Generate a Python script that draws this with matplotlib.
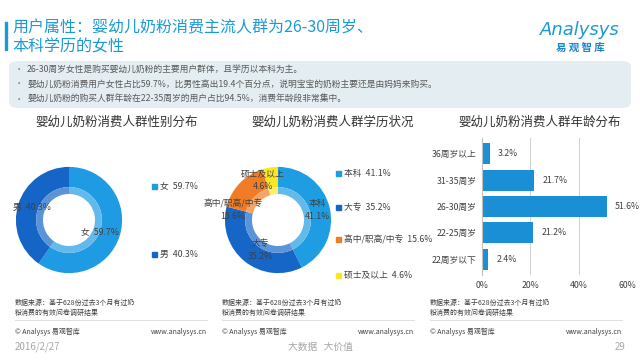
import numpy as np
import matplotlib.pyplot as plt
from matplotlib.patches import FancyBboxPatch, Rectangle
from matplotlib.colors import to_rgb

plt.rcParams['font.family'] = ['Noto Sans CJK SC', 'DejaVu Sans']

# data
gender_labels = ['女', '男']
gender_values = [59.7, 40.3]
edu_labels = ['本科', '大专', '高中/职高/中专', '硕士及以上']
edu_values = [41.1, 35.2, 15.6, 4.6]
age_labels = ['22周岁以下', '22-25周岁', '26-30周岁', '31-35周岁', '36周岁以上']
age_values = [2.4, 21.2, 51.6, 21.7, 3.2]
bullets = ['26-30周岁女性是购买婴幼儿奶粉的主要用户群体，且学历以本科为主。',
           '婴幼儿奶粉消费用户女性占比59.7%，比男性高出19.4个百分点，说明宝宝的奶粉主要还是由妈妈来购买。',
           '婴幼儿奶粉的购买人群年龄在22-35周岁的用户占比94.5%，消费年龄段非常集中。']

W, H = 640, 360
BLUE = '#1a9ad6'
GRAY = '#404040'

def fx(x):
    return x / W

def fy(y):
    return 1 - y / H

fig = plt.figure(figsize=(6.4, 3.6), dpi=100)
fig.patch.set_facecolor('white')

# title block
fig.add_artist(Rectangle((fx(5), fy(50)), 2 / W, 28 / H, color=BLUE, transform=fig.transFigure))
fig.text(fx(12), fy(28), '用户属性：婴幼儿奶粉消费主流人群为26-30周岁、', color=BLUE,
         fontsize=11.5, va='center')
fig.text(fx(12), fy(47), '本科学历的女性', color=BLUE, fontsize=11.5, va='center')
fig.text(fx(580), fy(30), 'Analysys', color=BLUE, fontsize=13, style='italic',
         ha='center', va='center', family='DejaVu Sans')
fig.text(fx(580), fy(48), '易 观 智 库', color='#1a86c8', fontsize=7.5, fontweight='bold',
         ha='center', va='center')

# bullet box
box = FancyBboxPatch((fx(9), fy(108)), fx(622), 47 / H,
                     boxstyle='round,pad=0,rounding_size=0.015',
                     transform=fig.transFigure, facecolor='#e3edf2', edgecolor='none')
fig.add_artist(box)
for i, b in enumerate(bullets):
    y = fy(69 + i * 15)
    fig.text(fx(15), y, '•', color='#777777', fontsize=6, va='center')
    fig.text(fx(27), y, b, color='#595959', fontsize=6.3, va='center')

def lighter(c, f=0.3):
    r, g, b = to_rgb(c)
    return (r + (1 - r) * f, g + (1 - g) * f, b + (1 - b) * f)

def donut(cx, cy, values, colors):
    s = 120
    ax = fig.add_axes([fx(cx - s / 2), fy(cy + s / 2), s / W, s / H])
    ax.pie(values, colors=colors, startangle=90, counterclock=False, radius=1,
           wedgeprops=dict(width=0.38, edgecolor='none'))
    ax.pie(values, colors=[lighter(c) for c in colors], startangle=90, counterclock=False,
           radius=0.62, wedgeprops=dict(width=0.13, edgecolor='none'))
    ax.set_xlim(-1.13, 1.13)
    ax.set_ylim(-1.13, 1.13)
    ax.set_aspect('equal')
    ax.axis('off')
    return ax

# chart 1: gender
g_colors = ['#1e9be2', '#1565c6']
fig.text(fx(117), fy(122), '婴幼儿奶粉消费人群性别分布', fontsize=9, color='#333333',
         ha='center', va='center')
donut(69, 220, gender_values, g_colors)
fig.text(fx(100), fy(232), '女  59.7%', fontsize=6.3, color=GRAY, ha='center', va='center')
fig.text(fx(32), fy(207), '男  40.3%', fontsize=6.3, color=GRAY, ha='center', va='center')
for i, (lab, v) in enumerate(zip(gender_labels, gender_values)):
    y = fy(186 + i * 68)
    fig.add_artist(Rectangle((fx(152), y - 2.5 / H), 5 / W, 5 / H, color=g_colors[i],
                             transform=fig.transFigure))
    fig.text(fx(160), y, f'{lab}  {v}%', fontsize=6.3, color=GRAY, va='center')

# chart 2: education
e_colors = ['#1f9de2', '#1666c8', '#f07d26', '#fbe625']
fig.text(fx(333), fy(122), '婴幼儿奶粉消费人群学历状况', fontsize=9, color='#333333',
         ha='center', va='center')
donut(278, 220, edu_values, e_colors)
e_pos = [(317, 210), (260, 250), (233, 210), (263, 180)]
for lab, v, (x, y) in zip(edu_labels, edu_values, e_pos):
    fig.text(fx(x), fy(y), f'{lab}\n{v}%', fontsize=6.3, color=GRAY, ha='center',
             va='center', linespacing=1.6)
for i, (lab, v) in enumerate(zip(edu_labels, edu_values)):
    y = fy([173, 208, 240, 275][i])
    fig.add_artist(Rectangle((fx(336), y - 2.5 / H), 5 / W, 5 / H, color=e_colors[i],
                             transform=fig.transFigure))
    fig.text(fx(344), y, f'{lab}  {v}%', fontsize=6.3, color=GRAY, va='center')

# chart 3: age
fig.text(fx(540), fy(122), '婴幼儿奶粉消费人群年龄分布', fontsize=9, color='#333333',
         ha='center', va='center')
ax = fig.add_axes([fx(482), fy(275), 145 / W, 137 / H])
yy = np.arange(len(age_labels))
ax.barh(yy, age_values, height=0.8, color='#1b8fd6')
for y, v in zip(yy, age_values):
    ax.text(v + 3.5, y, f'{v}%', fontsize=6.3, color=GRAY, va='center')
ax.set_xlim(0, 60)
ax.set_ylim(-0.6, 4.6)
ax.set_xticks([0, 20, 40, 60])
ax.set_xticklabels(['0%', '20%', '40%', '60%'], fontsize=6.3, color=GRAY)
ax.set_yticks(yy)
ax.set_yticklabels(age_labels, fontsize=6.3, color=GRAY)
ax.tick_params(length=0, pad=4)
ax.grid(axis='x', color='#d0d0d0', linewidth=0.7)
ax.set_axisbelow(True)
for s in ['top', 'right', 'bottom']:
    ax.spines[s].set_visible(False)
ax.spines['left'].set_color('#bfbfbf')

# sources and footer
for x0 in [15, 222, 430]:
    fig.text(fx(x0), fy(303), '数据来源：基于628份过去3个月有过奶', fontsize=5, color='#404040',
             va='center')
    fig.text(fx(x0), fy(313), '粉消费的有效问卷调研结果', fontsize=5, color='#404040',
             va='center')
    fig.add_artist(plt.Line2D([fx(x0), fx(x0 + 192)], [fy(320), fy(320)], color='#d9d9d9',
                              linewidth=0.6, transform=fig.transFigure))
    fig.text(fx(x0), fy(332), '© Analysys 易观智库', fontsize=5, color='#404040', va='center')
    fig.text(fx(x0 + 192), fy(332), 'www.analysys.cn', fontsize=5, color='#404040',
             va='center', ha='right')

fig.text(fx(15), fy(347), '2016/2/27', fontsize=7, color='#a6a6a6', va='center')
fig.text(fx(320), fy(347), '大数据   大价值', fontsize=7, color='#a6a6a6', va='center',
         ha='center')
fig.text(fx(625), fy(347), '29', fontsize=7, color='#a6a6a6', va='center', ha='right')

fig.savefig('out.png', dpi=100)
